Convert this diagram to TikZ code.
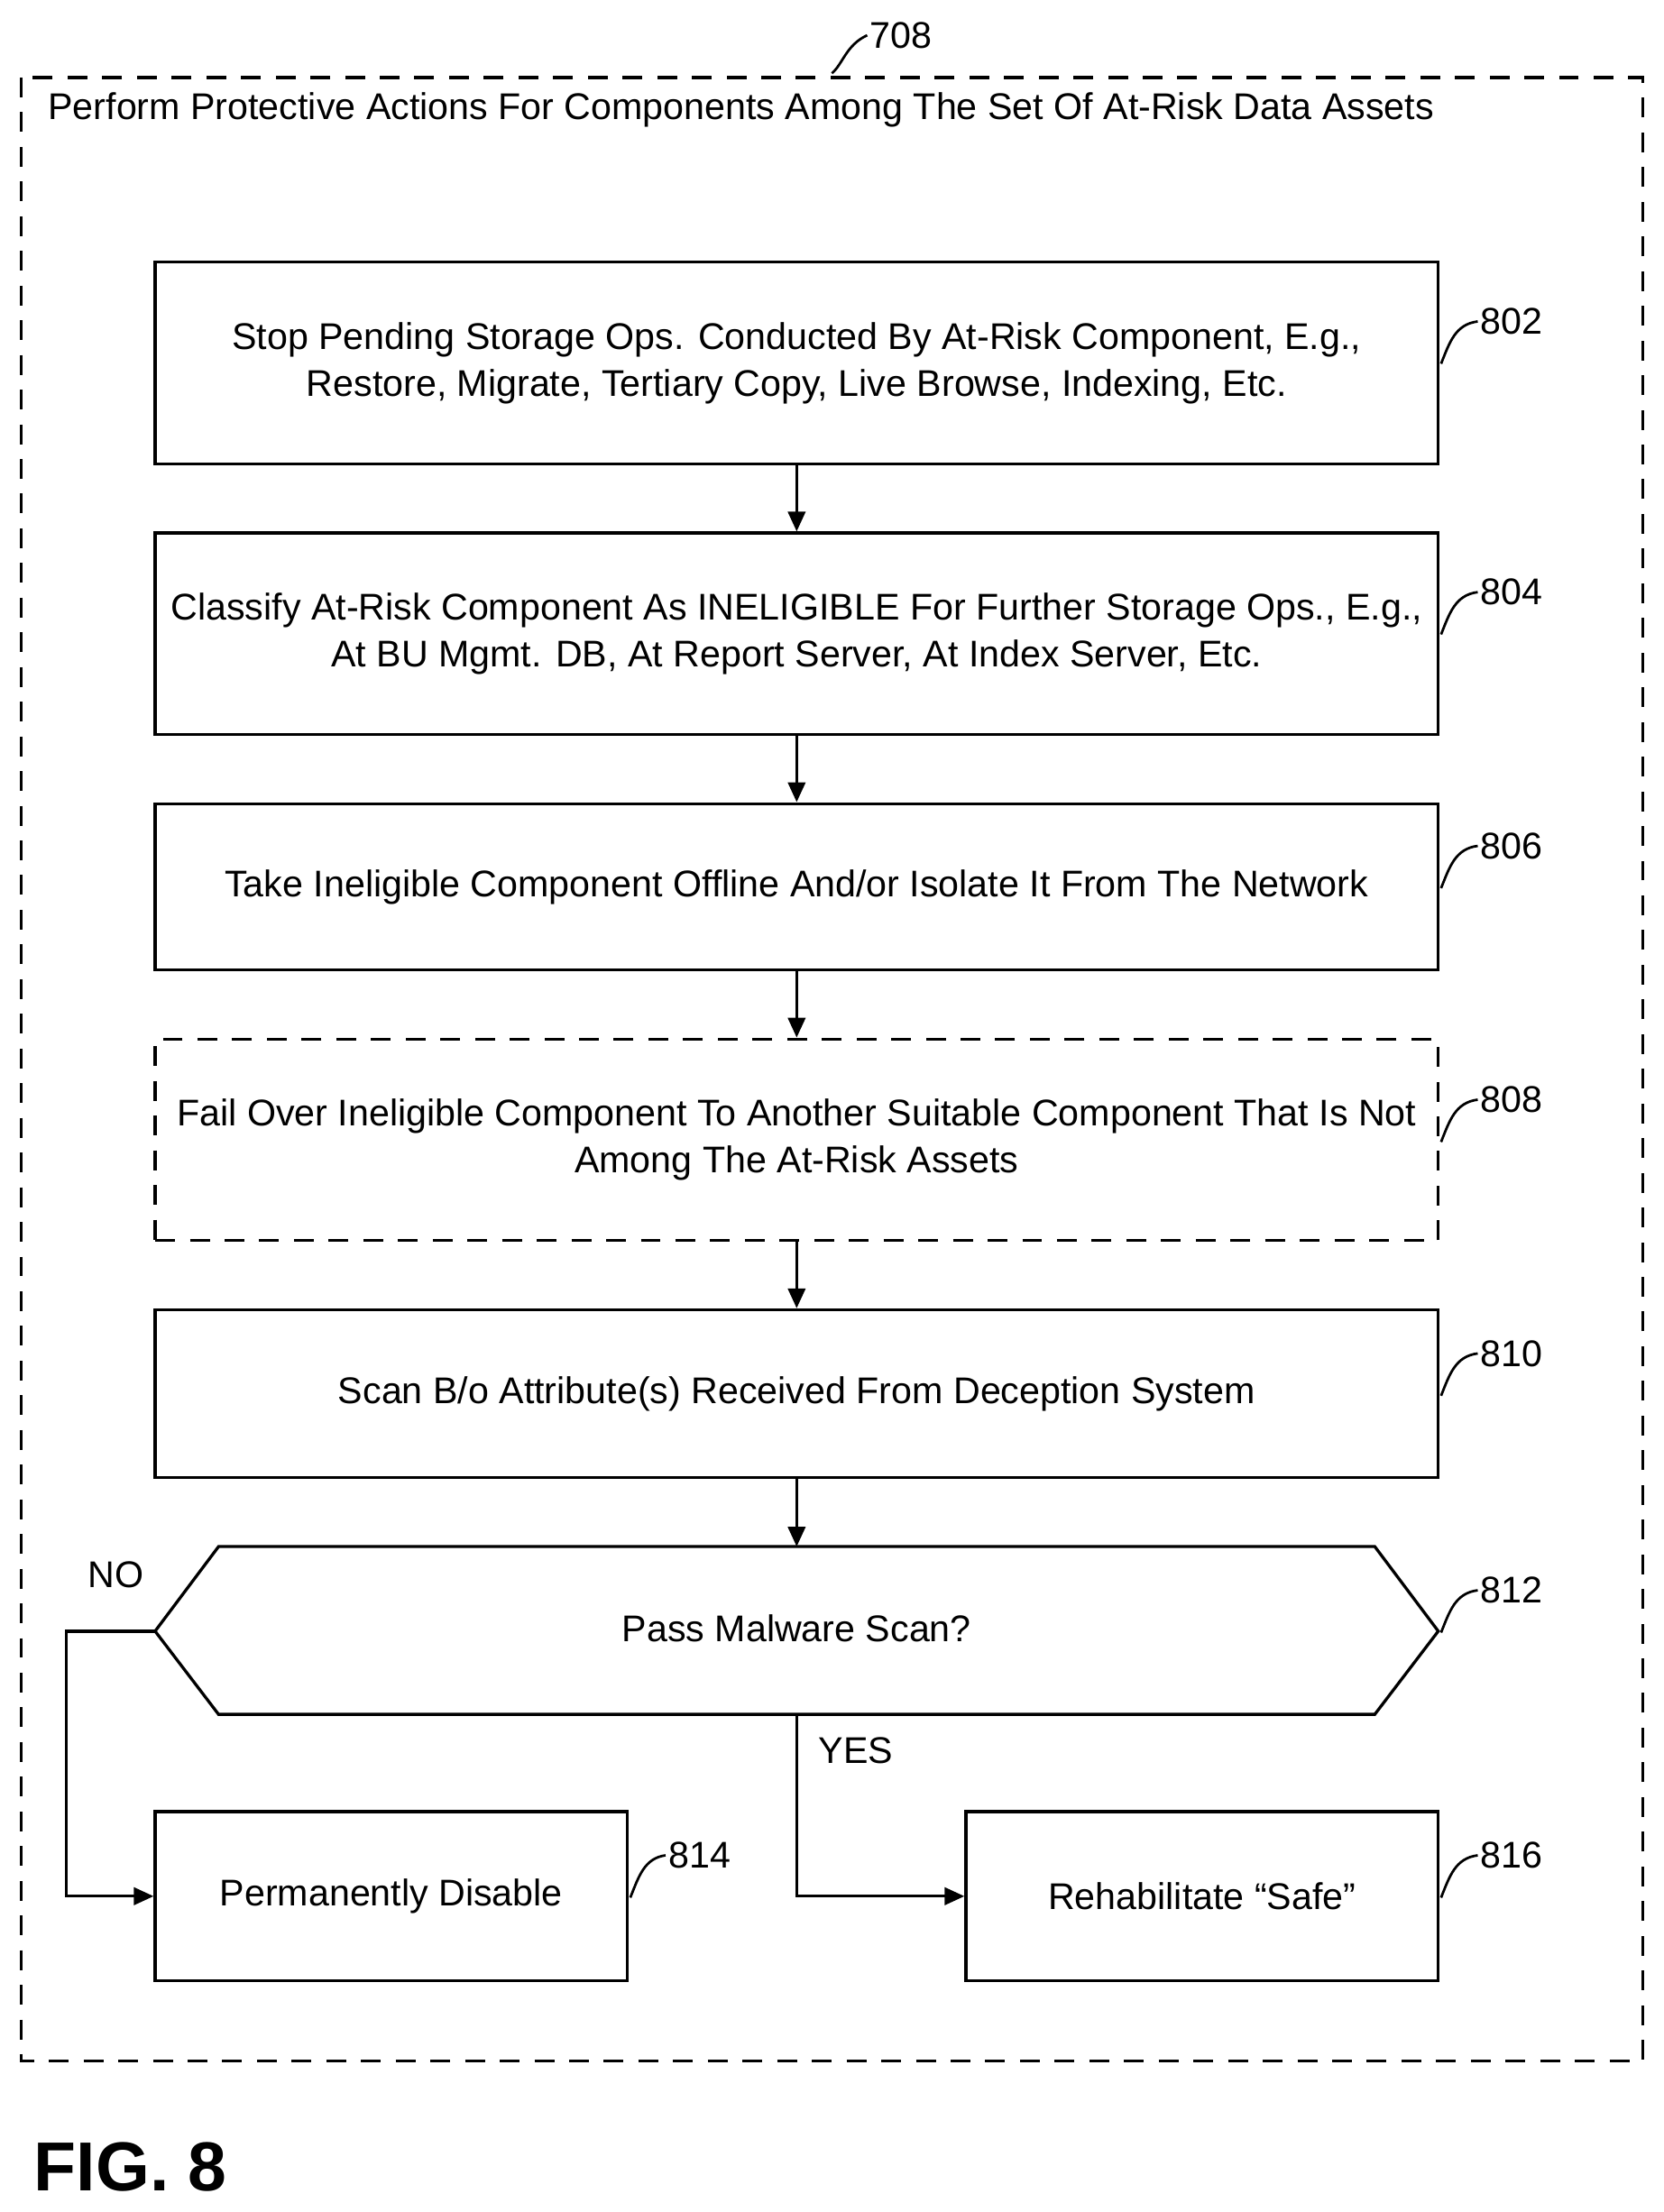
\documentclass[tikz,border=0pt]{standalone}
\usepackage{fontspec}
\setmainfont{Liberation Sans}
\usetikzlibrary{positioning, arrows.meta, shapes.geometric}
\tikzset{
  stepbox/.style = {rectangle, draw=black, line width=1.2pt, minimum width=18.2cm,
                 align=center, font=\fontsize{15}{19}\selectfont},
  optstep/.style = {stepbox, dashed, dash pattern=on 8pt off 6pt},
  smallstep/.style = {stepbox, minimum width=6.7cm, minimum height=2.4cm},
  refno/.style = {font=\fontsize{15}{18}\selectfont, anchor=west, inner sep=1pt},
  flow/.style = {line width=1.2pt, -{Triangle[length=8pt, width=7pt]}},
  tick/.style = {line width=1pt}
}
\begin{document}
\begin{tikzpicture}[x=0.02cm, y=-0.02cm]
\useasboundingbox (0,0) rectangle (1180,1569);

% outer frame
\draw[line width=1.2pt, dash pattern=on 8pt off 6pt] (15,55) rectangle (1165,1462);
\node[refno] (n708) at (615,25) {708};
\draw[tick] (590,52) .. controls (598,45) and (600,32) .. (n708.west);
\node[anchor=west, font=\fontsize{15}{18}\selectfont] (title) at (28,78)
  {Perform Protective Actions For Components Among The Set Of At-Risk Data Assets};

% steps
\node[stepbox, minimum height=2.86cm] (s802) at (565,257.5)
  {Stop Pending Storage Ops. Conducted By At-Risk Component, E.g.,\\
   Restore, Migrate, Tertiary Copy, Live Browse, Indexing, Etc.};
\node[stepbox, minimum height=2.86cm] (s804) at (565,449.5)
  {Classify At-Risk Component As INELIGIBLE For Further Storage Ops., E.g.,\\
   At BU Mgmt. DB, At Report Server, At Index Server, Etc.};
\node[stepbox, minimum height=2.36cm] (s806) at (565,629)
  {Take Ineligible Component Offline And/or Isolate It From The Network};
\node[optstep, minimum height=2.86cm] (s808) at (565,808.5)
  {Fail Over Ineligible Component To Another Suitable Component That Is Not\\
   Among The At-Risk Assets};
\node[stepbox, minimum height=2.38cm] (s810) at (565,988.5)
  {Scan B/o Attribute(s) Received From Deception System};
\draw[line width=1.2pt] (110,1157) coordinate (w812) -- (155,1097) -- (975,1097)
  -- (1020,1157) coordinate (e812) -- (975,1216) -- (155,1216) -- cycle;
\node[font=\fontsize{15}{18}\selectfont] (s812) at (565,1155) {Pass Malware Scan?};
\coordinate (b812) at (565,1216);
\node[smallstep] (s814) at (277.5,1345) {Permanently Disable};
\node[smallstep] (s816) at (852.5,1345) {Rehabilitate “Safe”};

% reference numbers
\foreach \n/\y in {802/228, 804/420, 806/600, 808/780, 810/960, 812/1128, 816/1316}{
  \node[refno] (n\n) at (1048,\y) {\n};
  \draw[tick] (1022,\y+30) .. controls (1028,\y+15) and (1032,\y+2) .. (n\n.west);
}
\node[refno] (n814) at (472,1316) {814};
\draw[tick] (447,1346) .. controls (453,1331) and (457,1318) .. (n814.west);

% connectors
\draw[flow] (s802) -- (s804);
\draw[flow] (s804) -- (s806);
\draw[flow] (s806) -- (s808);
\draw[flow] (s808) -- (s810);
\draw[flow] (s810.south) -- (565,1097);
\draw[flow] (w812) -- (47,1157) |- (s814.west);
\draw[flow] (b812) |- (s816.west);
\node[font=\fontsize{15}{18}\selectfont] (no) at (82,1117) {NO};
\node[font=\fontsize{15}{18}\selectfont] (yes) at (607,1242) {YES};

\node[anchor=west, font=\bfseries\fontsize{28}{32}\selectfont] (fig) at (18,1537) {FIG. 8};
\end{tikzpicture}
\end{document}
